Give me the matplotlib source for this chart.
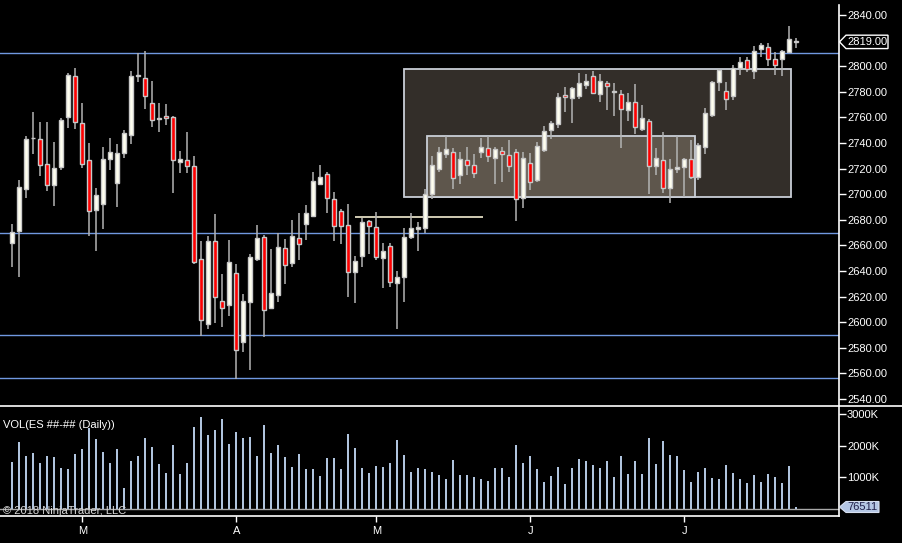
import matplotlib
matplotlib.use("Agg")
import matplotlib.pyplot as plt
from matplotlib.patches import Rectangle, Polygon

plt.rcParams['font.family'] = ['Liberation Sans', 'DejaVu Sans']

# Daily ES bars (Feb - Jul)
opens = [2662.1, 2671.2, 2704.3, 2743.5, 2743.3, 2723.8, 2707.4, 2721.5, 2760.5, 2792.6,
         2755.8, 2726.9, 2687.6, 2692.3, 2727.4, 2708.7, 2732.1, 2746.2, 2792.6, 2791.0,
         2771.4, 2759.0, 2761.3, 2760.5, 2725.4, 2726.9, 2722.2, 2649.6, 2598.8, 2663.6,
         2616.8, 2613.6, 2638.6, 2584.7, 2616.0, 2649.6, 2666.8, 2611.3, 2621.5, 2658.2,
         2646.5, 2666.0, 2676.9, 2683.2, 2708.2, 2716.0, 2696.5, 2687.1, 2676.1, 2639.4,
         2651.9, 2679.3, 2674.6, 2650.4, 2659.7, 2630.8, 2635.5, 2666.8, 2672.5, 2673.8,
         2700.4, 2719.9, 2731.3, 2732.7, 2715.2, 2726.4, 2723.0, 2733.2, 2735.8, 2728.5,
         2733.9, 2730.8, 2733.2, 2697.2, 2724.6, 2711.3, 2734.7, 2750.4, 2755.0, 2777.7,
         2775.4, 2776.9, 2785.5, 2792.5, 2778.5, 2787.1, 2780.0, 2778.5, 2766.0, 2772.2,
         2751.1, 2757.4, 2722.2, 2726.9, 2705.0, 2719.9, 2721.5, 2727.7, 2713.6, 2737.1,
         2762.1, 2787.9, 2780.8, 2776.9, 2798.8, 2805.1, 2796.5, 2813.7, 2815.2, 2805.9,
         2805.9, 2811.3, 2819.5]
highs = [2676.4, 2710.8, 2745.4, 2763.9, 2756.6, 2756.6, 2740.5, 2759.7, 2794.9, 2798.8,
         2771.4, 2740.2, 2705.0, 2737.1, 2743.6, 2739.4, 2750.1, 2796.5, 2810.0, 2811.6,
         2788.1, 2771.4, 2770.7, 2761.0, 2733.4, 2748.3, 2730.1, 2663.1, 2667.0, 2684.2,
         2637.9, 2663.9, 2645.7, 2622.2, 2653.5, 2676.1, 2667.8, 2657.4, 2669.9, 2665.2,
         2679.8, 2685.0, 2691.5, 2717.6, 2722.5, 2717.6, 2701.9, 2688.6, 2692.6, 2651.9,
         2681.6, 2680.1, 2686.3, 2662.1, 2662.1, 2640.2, 2673.8, 2685.5, 2678.5, 2704.3,
         2729.5, 2736.6, 2745.4, 2735.8, 2732.7, 2736.6, 2731.1, 2743.6, 2745.4, 2737.1,
         2737.1, 2742.0, 2735.0, 2733.2, 2732.4, 2741.0, 2753.5, 2757.4, 2779.3, 2784.0,
         2784.0, 2794.9, 2794.1, 2796.5, 2794.1, 2788.6, 2787.1, 2781.1, 2778.8, 2785.8,
         2769.4, 2758.4, 2735.8, 2748.3, 2727.2, 2745.7, 2728.5, 2742.0, 2740.2, 2767.0,
         2788.6, 2798.0, 2787.9, 2801.2, 2807.4, 2807.4, 2816.0, 2818.3, 2818.3, 2811.3,
         2812.9, 2831.6, 2822.2]
lows = [2643.0, 2635.3, 2697.0, 2731.4, 2714.2, 2702.4, 2690.7, 2718.9, 2751.7, 2750.9,
        2720.4, 2667.3, 2655.6, 2672.5, 2718.9, 2689.7, 2728.2, 2738.9, 2787.6, 2766.2,
        2752.4, 2748.5, 2754.0, 2700.9, 2716.5, 2716.5, 2645.4, 2589.4, 2594.9, 2599.3,
        2596.5, 2604.8, 2555.8, 2576.9, 2562.9, 2647.8, 2588.6, 2611.0, 2615.7, 2629.8,
        2643.3, 2648.8, 2664.2, 2682.4, 2707.1, 2685.5, 2663.6, 2661.3, 2619.6, 2614.9,
        2643.1, 2653.5, 2648.3, 2626.7, 2627.7, 2594.6, 2615.7, 2665.2, 2655.6, 2669.9,
        2696.0, 2717.0, 2728.0, 2703.8, 2707.7, 2714.7, 2712.3, 2728.0, 2725.1, 2707.7,
        2709.5, 2717.3, 2679.0, 2689.2, 2703.2, 2709.2, 2733.2, 2743.3, 2751.9, 2764.2,
        2755.8, 2774.6, 2782.4, 2778.0, 2772.2, 2765.7, 2761.0, 2736.0, 2757.1, 2746.7,
        2749.3, 2699.8, 2714.9, 2700.9, 2693.3, 2716.5, 2698.0, 2712.1, 2711.3, 2731.6,
        2760.0, 2780.8, 2766.0, 2773.8, 2793.3, 2795.7, 2790.2, 2807.4, 2800.4, 2793.3,
        2792.6, 2810.5, 2814.2]
closes = [2670.7, 2705.8, 2743.3, 2744.2, 2723.0, 2707.4, 2720.7, 2758.2, 2793.3, 2756.6,
          2723.8, 2687.1, 2699.6, 2727.7, 2733.2, 2732.4, 2748.0, 2792.6, 2793.2, 2776.7,
          2758.2, 2759.5, 2759.7, 2726.9, 2727.7, 2722.2, 2647.2, 2601.9, 2663.6, 2619.9,
          2611.3, 2647.2, 2578.5, 2616.8, 2651.1, 2666.0, 2609.7, 2623.0, 2659.0, 2644.9,
          2667.6, 2661.3, 2685.5, 2710.5, 2713.6, 2697.2, 2675.4, 2675.4, 2639.4, 2648.0,
          2678.5, 2675.4, 2651.1, 2655.8, 2631.6, 2635.5, 2666.8, 2673.8, 2674.0, 2700.4,
          2723.0, 2733.2, 2735.0, 2712.9, 2727.2, 2722.7, 2716.5, 2737.1, 2729.8, 2735.0,
          2731.3, 2722.2, 2696.5, 2728.5, 2709.7, 2737.9, 2749.6, 2755.8, 2776.1, 2776.1,
          2783.2, 2787.1, 2788.6, 2779.3, 2788.6, 2784.7, 2780.2, 2766.8, 2772.2, 2752.7,
          2759.7, 2722.2, 2728.5, 2705.0, 2719.9, 2721.5, 2727.7, 2713.6, 2738.6, 2763.6,
          2787.9, 2797.2, 2774.6, 2798.8, 2803.5, 2797.5, 2812.1, 2816.8, 2805.9, 2801.2,
          2812.1, 2821.5, 2819.0]
# volume in thousands
volume = [1488, 2121, 1677, 1772, 1456, 1677, 1646, 1298, 1266, 1741,
          1899, 2564, 2216, 1804, 1456, 1899, 665, 1519, 1677, 2247,
          1962, 1424, 1139, 2026, 1108, 1456, 2595, 2912, 2342, 2500,
          2849, 2057, 2437, 2247, 2279, 1677, 2659, 1772, 2026, 1646,
          1329, 1741, 1266, 1266, 1044, 1614, 1614, 1266, 2374, 1931,
          1298, 1139, 1361, 1329, 1456, 2184, 1709, 1171, 1298, 1266,
          1171, 1076, 950, 1551, 1076, 1076, 1013, 950, 886, 1298,
          1298, 1013, 2026, 1456, 1677, 1266, 855, 1044, 1329, 791,
          1298, 1583, 1519, 1393, 1298, 1519, 1013, 1677, 1108, 1519,
          1108, 2247, 1424, 2152, 1709, 1677, 1234, 855, 1171, 1298,
          981, 950, 1393, 1139, 950, 823, 1076, 855, 1108, 1013,
          823, 1361, 76.511]

month_idx = [10, 32, 52, 74, 96]
month_labels = ['M', 'A', 'M', 'J', 'J']
hlines = [2810.5, 2669.9, 2590.2, 2556.6]
outer_zone = (56.0, 111.2, 2698.0, 2797.5)   # x0, x1, low, high
inner_zone = (59.2, 97.5, 2698.0, 2745.7)
mid_line = (49.0, 67.2, 2682.5)
last_price = 2819.00
last_volume = 76511

W, H = 902, 543
fig = plt.figure(figsize=(W / 100, H / 100), dpi=100, facecolor='black')

axw = 838.7 / W
ax_p = fig.add_axes([0, 137 / H, axw, 406 / H])
ax_v = fig.add_axes([0, 27 / H, axw, 110 / H])
xlim = (-12.3 / 7, (838.7 - 12.3) / 7)

fg = 'white'
for ax in (ax_p, ax_v):
    ax.set_facecolor('black')
    ax.set_xlim(*xlim)
    for s in ('top', 'left', 'bottom'):
        ax.spines[s].set_visible(False)
    ax.spines['right'].set_color(fg)
    ax.spines['right'].set_linewidth(1.2)
    ax.yaxis.tick_right()
    ax.tick_params(axis='y', colors=fg, labelsize=8, length=5, width=1, pad=1)
ax_p.spines['right'].set_visible(False)  # drawn on the overlay so it starts below the top

# price panel
ax_p.set_ylim(2534.5, 2851.7)
ax_p.set_yticks(range(2540, 2841, 20))
ax_p.set_yticklabels([f'{v:.2f}' for v in range(2540, 2841, 20)])
ax_p.set_xticks([])

x0, x1, lo, hi = outer_zone
ax_p.add_patch(Rectangle((x0, lo), x1 - x0, hi - lo, facecolor='#332e29',
                         edgecolor='#c9ced6', linewidth=1.3, zorder=1))
x0, x1, lo, hi = inner_zone
ax_p.add_patch(Rectangle((x0, lo), x1 - x0, hi - lo, facecolor='#5e564c',
                         edgecolor='#c9ced6', linewidth=1.3, zorder=1.1))
ax_p.hlines(mid_line[2], mid_line[0], mid_line[1], color='#f3edd2', lw=1.2, zorder=1.2)
for h in hlines:
    ax_p.axhline(h, color='#7098e0', lw=1.0, zorder=1.3)

xs = list(range(len(opens)))
ax_p.vlines(xs, lows, highs, color='#b4b4b4', lw=1.1, zorder=2)
body_bottom = [min(o, c) for o, c in zip(opens, closes)]
body_h = [max(abs(c - o), 0.6) for o, c in zip(opens, closes)]
body_col = ['#fffff0' if c >= o else '#ff0000' for o, c in zip(opens, closes)]
ax_p.bar(xs, body_h, bottom=body_bottom, width=0.62, color=body_col,
         edgecolor='#c8c8c8', linewidth=1.0, zorder=3)

# volume panel
ax_v.set_ylim(-221, 3259)
ax_v.set_yticks([1000, 2000, 3000])
ax_v.set_yticklabels(['1000K', '2000K', '3000K'])
ax_v.spines['bottom'].set_visible(True)
ax_v.spines['bottom'].set_color(fg)
ax_v.spines['bottom'].set_linewidth(1.2)
ax_v.axhline(0, color='#a8a8a8', lw=1.0, zorder=1)
ax_v.bar(xs, volume, width=0.3, color='#b0c4de', zorder=2)
ax_v.set_xticks(month_idx)
ax_v.set_xticklabels(month_labels)
ax_v.tick_params(axis='x', colors=fg, labelsize=8, length=4, width=1, pad=3)
ax_v.text(0.004, 0.83, 'VOL(ES ##-## (Daily))', transform=ax_v.transAxes,
          color=fg, fontsize=8, va='center', ha='left', zorder=5)
ax_v.text(0.004, 0.05, '\u00a9 2018 NinjaTrader, LLC', transform=ax_v.transAxes,
          color='#d8d8d8', fontsize=8, va='center', ha='left', zorder=5)

# overlay in pixel coordinates for separator and value flags
ov = fig.add_axes([0, 0, 1, 1], facecolor='none')
ov.set_xlim(0, W)
ov.set_ylim(H, 0)
ov.axis('off')
ov.plot([0, W], [406, 406], color=fg, lw=1.2)
ov.plot([838.7, 838.7], [5, 406], color=fg, lw=1.2)

py = 15 + (2840 - last_price) * 1.28
ov.add_patch(Polygon([(839.5, py), (846, py - 6.7), (888, py - 6.7), (888, py + 6.7),
                      (846, py + 6.7)], closed=True, facecolor='black',
                     edgecolor=fg, lw=1.0))
ov.text(867, py, f'{last_price:.2f}', color=fg, fontsize=8, ha='center', va='center')

vy = 507
ov.add_patch(Polygon([(839.5, vy), (846, vy - 5.5), (879, vy - 5.5), (879, vy + 5.5),
                      (846, vy + 5.5)], closed=True, facecolor='#b4c6e4',
                     edgecolor='#d8e0f0', lw=0.8))
ov.text(862.5, vy, f'{last_volume}', color='#20204a', fontsize=8, ha='center', va='center')

fig.savefig('out.png', dpi=100, facecolor='black')
